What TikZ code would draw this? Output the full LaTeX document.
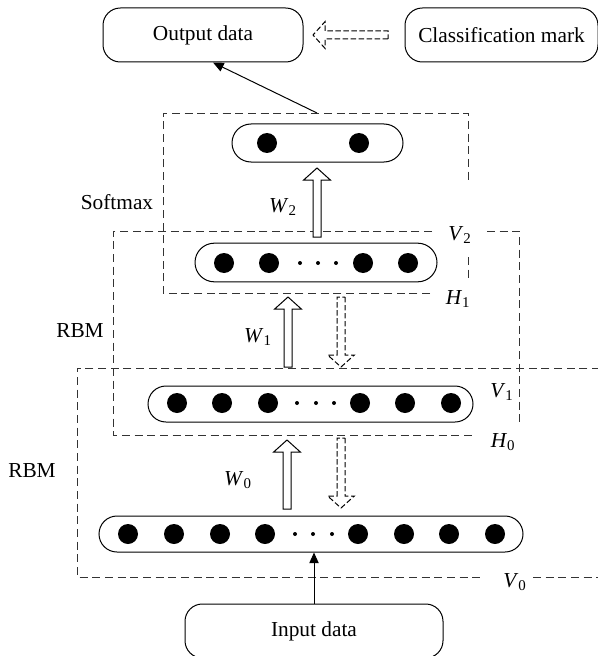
\documentclass[tikz,border=0pt]{standalone}
\usepackage{fontspec}
\setmainfont{Liberation Serif}
\usetikzlibrary{arrows.meta,calc,shapes.misc}

\tikzset{
  layer/.style={rounded rectangle, draw, line width=.75pt, inner sep=0pt},
  databox/.style={rectangle, rounded corners=13pt, draw, line width=.75pt,
    minimum height=40.5pt, inner sep=0pt},
  unit/.style={circle, fill, inner sep=0pt, minimum size=15pt},
  gapdot/.style={circle, fill, inner sep=0pt, minimum size=3pt},
  rbmbox/.style={draw=black!80, line width=.7pt, dash pattern=on 6pt off 3.5pt},
  hollow/.style={draw, fill=white, line width=.75pt, line join=miter},
  hollowdash/.style={hollow, dash pattern=on 4pt off 2pt},
  feed/.style={line width=.75pt, -{Triangle[length=8pt,width=7pt]}},
}

% open block arrow from #2 to #3
\newcommand{\fatarrow}[3][hollow]{%
  \path ($(#3)!9pt!(#2)$) coordinate (fa-b);
  \draw[#1] ($(#2)!3pt!90:(#3)$) -- ($(fa-b)!3pt!90:(#3)$)
    -- ($(fa-b)!10pt!90:(#3)$) -- (#3) -- ($(fa-b)!10pt!-90:(#3)$)
    -- ($(fa-b)!3pt!-90:(#3)$) -- ($(#2)!3pt!-90:(#3)$) -- cycle;}
\newcommand{\wlabel}[2]{\textit{#1}\textsubscript{#2}}

\begin{document}
\begin{tikzpicture}[x=.75pt, y=-.75pt, font=\fontsize{16}{19}\selectfont]
  \useasboundingbox (0,0) rectangle (597,656);

  % in/out boxes
  \node[databox, minimum width=150pt] (out) at (203,35) {Output data};
  \node[databox, minimum width=144.75pt] (cls) at (501.5,35) {Classification mark};
  \node[databox, minimum width=193.5pt] (inp) at (314,631) {Input data};

  % dashed blocks (broken round the labels)
  \draw[rbmbox] (430,293) -- (163,293) -- (163,113) -- (468,113) -- (468,182)
    (468,257) -- (468,278);
  \draw[rbmbox] (432,231) -- (113,231) -- (113,435) -- (473,435)
    (487,231) -- (519,231) -- (519,423);
  \draw[rbmbox] (600,368) -- (77,368) -- (77,577) -- (482,577)
    (533,577) -- (600,577);

  % layers
  \node[layer, minimum width=128.25pt, minimum height=28.5pt] (s2) at (317.5,143) {};
  \node[layer, minimum width=181.5pt, minimum height=29pt] (h1) at (316,262.5) {};
  \node[layer, minimum width=243.75pt, minimum height=27pt] (v1) at (310.5,404) {};
  \node[layer, minimum width=318pt, minimum height=27pt] (v0) at (311,534) {};

  \foreach \x [count=\i] in {267,359}
    \node[unit] (s2-\i) at (\x,143) {};
  \foreach \x [count=\i] in {224,269,363,408}
    \node[unit] (h1-\i) at (\x,263) {};
  \foreach \x in {300,318,336}
    \node[gapdot] (h1-g\x) at (\x,263) {};
  \foreach \x [count=\i] in {177,222,268,360,405,451}
    \node[unit] (v1-\i) at (\x,403) {};
  \foreach \x in {297,316,334}
    \node[gapdot] (v1-g\x) at (\x,403) {};
  \foreach \x [count=\i] in {128,174,220,265,358,404,449,495}
    \node[unit] (v0-\i) at (\x,534) {};
  \foreach \x in {295,313,332}
    \node[gapdot] (v0-g\x) at (\x,534) {};

  % weights up, reconstruction down
  \coordinate (w2a) at (317,237);  \coordinate (w2b) at (317,168);
  \coordinate (w1a) at (288,367);  \coordinate (w1b) at (288,297);
  \coordinate (w0a) at (287,509);  \coordinate (w0b) at (287,440);
  \coordinate (r1a) at (341,297);  \coordinate (r1b) at (341,367);
  \coordinate (r0a) at (341,438);  \coordinate (r0b) at (341,508);
  \coordinate (lba) at (388,35);   \coordinate (lbb) at (313,35);
  \fatarrow{w2a}{w2b}
  \fatarrow{w1a}{w1b}
  \fatarrow{w0a}{w0b}
  \fatarrow[hollowdash]{r1a}{r1b}
  \fatarrow[hollowdash]{r0a}{r0b}
  \fatarrow[hollowdash]{lba}{lbb}

  \coordinate (smtop) at (317,113);
  \draw[feed] (smtop) -- ([xshift=7.5pt]out.south);
  \draw[feed] (inp.north) -- (inp.north |- v0.south);

  % labels
  \node (lsoft) at (117,202) {Softmax};
  \node (lrbm1) at (80,331) {RBM};
  \node (lrbm0) at (32,471) {RBM};
  \node (lw2) at (283,207) {\wlabel{W}{2}};
  \node (lw1) at (258,337) {\wlabel{W}{1}};
  \node (lw0) at (238,480) {\wlabel{W}{0}};
  \node (lv2) at (460,235) {\wlabel{V}{2}};
  \node (lh1) at (458,299) {\wlabel{H}{1}};
  \node (lv1) at (502,392) {\wlabel{V}{1}};
  \node (lh0) at (503,442) {\wlabel{H}{0}};
  \node (lv0) at (515,582) {\wlabel{V}{0}};
\end{tikzpicture}
\end{document}
